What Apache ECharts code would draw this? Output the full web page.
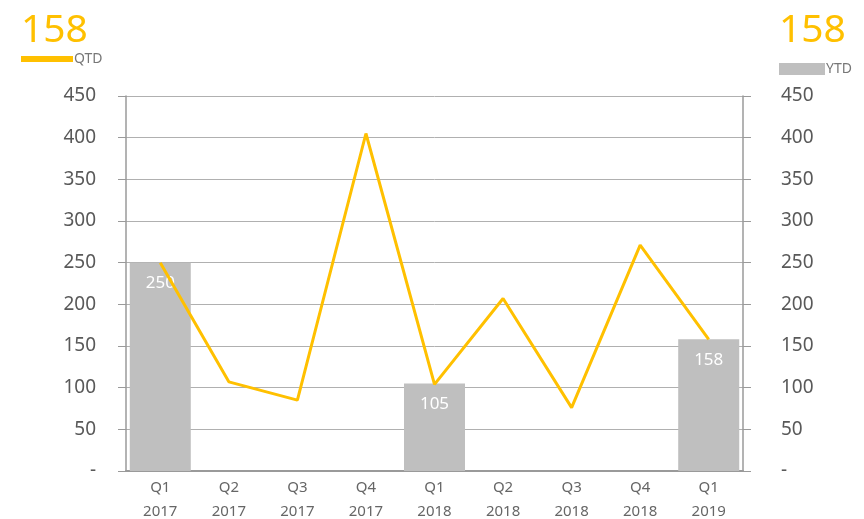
<!DOCTYPE html>
<html><head><meta charset="utf-8">
<script src="https://cdn.jsdelivr.net/npm/echarts@6/dist/echarts.min.js"></script>
<style>html,body{margin:0;padding:0;background:#fff}#c{width:864px;height:519px}</style>
</head><body><div id="c"></div>
<script>
const categories = ['Q1\n2017','Q2\n2017','Q3\n2017','Q4\n2017','Q1\n2018','Q2\n2018','Q3\n2018','Q4\n2018','Q1\n2019'];
const qtd = [250, 107, 85, 405, 104, 207, 76, 271, 158];
const ytd = [250, null, null, null, 105, null, null, null, 158];
const headlineQTD = '158';
const headlineYTD = '158';

const chart = echarts.init(document.getElementById('c'));
const gray = '#9a9a9a';
const yAxisCommon = {
  type: 'value', min: 0, max: 450, interval: 50,
  axisLine: {show: true, lineStyle: {color: gray, width: 1.5}},
  axisTick: {show: true, length: 8, lineStyle: {color: gray}},
  splitLine: {show: true, lineStyle: {color: '#b0b0b0', width: 1}},
  axisLabel: {color: '#595959', fontSize: 19, fontFamily: 'Noto Sans', margin: 30,
    formatter: v => v === 0 ? '-' : String(v)}
};
chart.setOption({
  animation: false,
  grid: {left: 126, right: 121, top: 96, bottom: 48, containLabel: false, outerBoundsMode: 'none'},
  graphic: [
    {type: 'text', left: 21, top: 11, style: {text: headlineQTD, fill: '#FFC000', fontSize: 39, fontFamily: 'Noto Sans'}},
    {type: 'text', left: 779, top: 11, style: {text: headlineYTD, fill: '#FFC000', fontSize: 39, fontFamily: 'Noto Sans'}}
  ],
  legend: [
    {data: ['QTD'], left: 16, top: 47, itemWidth: 52, itemHeight: 6, itemGap: 2, icon: 'rect',
     textStyle: {color: '#777', fontSize: 14, fontFamily: 'Noto Sans', padding: [0,0,0,-4]}},
    {data: ['YTD'], left: 774, top: 57, itemWidth: 46, itemHeight: 12, icon: 'rect',
     textStyle: {color: '#777', fontSize: 14, fontFamily: 'Noto Sans', padding: [0,0,0,-4]}}
  ],
  xAxis: {
    type: 'category', data: categories,
    axisLine: {show: true, lineStyle: {color: gray, width: 2}},
    axisTick: {show: false},
    axisLabel: {color: '#666', fontSize: 15, fontFamily: 'Noto Sans', lineHeight: 24, margin: 5}
  },
  yAxis: [Object.assign({}, yAxisCommon, {position: 'left'}),
          Object.assign({}, yAxisCommon, {position: 'right', splitLine: {show: false},
            axisLabel: Object.assign({}, yAxisCommon.axisLabel, {margin: 38})})],
  series: [
    {name: 'YTD', type: 'bar', data: ytd, yAxisIndex: 1, barWidth: '89%',
     itemStyle: {color: '#BFBFBF'},
     label: {show: true, position: 'insideTop', distance: 12, color: '#fff', fontSize: 17, fontFamily: 'Noto Sans'}},
    {name: 'QTD', type: 'line', data: qtd, yAxisIndex: 0, symbol: 'none',
     lineStyle: {color: '#FFC000', width: 3}, itemStyle: {color: '#FFC000'}, z: 5}
  ]
});
</script></body></html>
